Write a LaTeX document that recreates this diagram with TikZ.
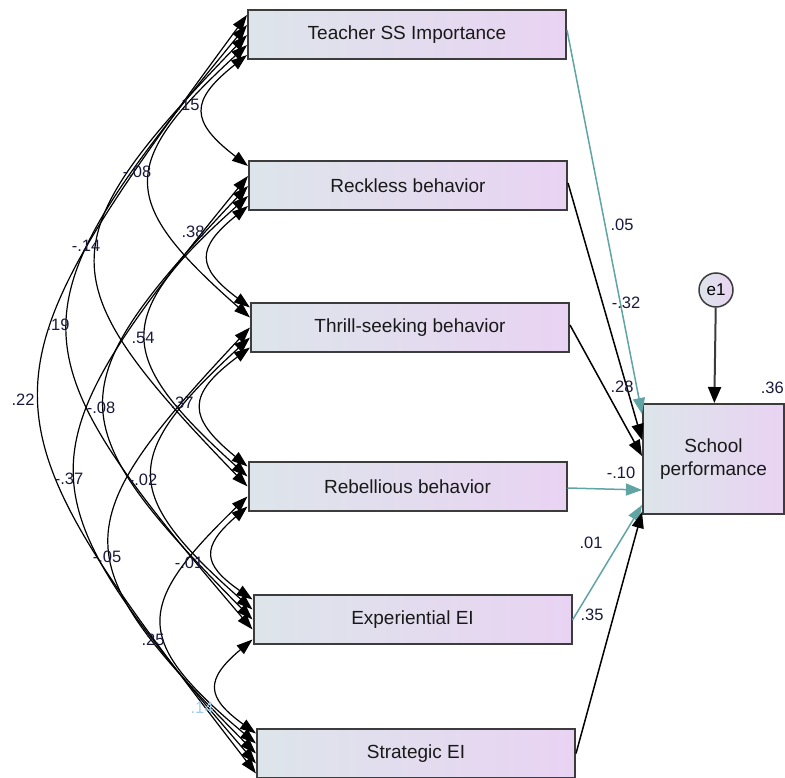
\documentclass[tikz,border=0pt]{standalone}
\usepackage{fontspec}
\setmainfont{Liberation Sans}
\usetikzlibrary{arrows.meta,calc,positioning}
\definecolor{regteal}{RGB}{96,164,164}
\definecolor{boxleft}{RGB}{221,229,234}
\definecolor{boxright}{RGB}{233,211,243}
\definecolor{boxline}{RGB}{60,60,60}
\definecolor{estcol}{RGB}{25,25,60}
\definecolor{ghost}{RGB}{165,205,235}
\tikzset{
  obsbox/.style={draw=boxline,line width=2pt,left color=boxleft,right color=boxright,
    minimum width=318pt,minimum height=49pt,inner sep=0pt,text=black!90,
    font=\fontsize{19}{23}\selectfont},
  covarc/.style={{Triangle[length=16pt,width=11pt]}-{Triangle[length=16pt,width=11pt]},line width=1.2pt},
  regarr/.style={-{Triangle[length=16pt,width=12pt]},line width=1.5pt},
  est/.style={font=\fontsize{16.5}{18}\selectfont,text=estcol,inner sep=0pt},
  cov1/.style={bend right=52,looseness=1.69},
  cov2/.style={bend right=48,looseness=1.65},
  cov3/.style={bend right=44,looseness=1.64},
  cov4/.style={bend right=40,looseness=1.59},
  cov5/.style={bend right=37,looseness=1.58}
}
\begin{document}
\begin{tikzpicture}[x=1pt,y=-1pt]
\useasboundingbox (0,0) rectangle (785,778);
\clip (0,0) rectangle (785,778);
% observed variables
\node[obsbox] (tsi) at (407,35) {Teacher SS Importance};
\node[obsbox] (rck) at (408,186) {Reckless behavior};
\node[obsbox] (thr) at (410,327.5) {Thrill-seeking behavior};
\node[obsbox] (reb) at (407.5,486.5) {Rebellious behavior};
\node[obsbox] (exp) at (412.5,619.5) {Experiential EI};
\node[obsbox] (str) at (416,753.5) {Strategic EI};
\node[obsbox,minimum width=141pt,minimum height=110pt,align=center] (sp) at (713.5,459) {School\\performance};
\node[circle,draw=boxline,line width=1.5pt,left color=boxleft,right color=boxright,minimum size=34pt,
  inner sep=0pt,font=\fontsize{17}{18}\selectfont] (e1) at (716,290) {e1};
% covariances (double-headed arcs on the left)
\foreach \a/\b/\d in {tsi/rck/1,tsi/thr/2,tsi/reb/3,tsi/exp/4,tsi/str/5,
  rck/thr/1,rck/reb/2,rck/exp/3,rck/str/4,
  thr/reb/1,thr/exp/2,thr/str/3,
  reb/exp/1,reb/str/2,
  exp/str/1}
  \draw[covarc] ($(\a.west)+(0,{30-10*\d})$) to[cov\d] ($(\b.west)+(0,{10*\d-30})$);
\foreach \t/\px/\py [count=\k] in {.15/188/105,-.08/137/172,-.14/86/246,.19/58/325,.22/23/400,
  .38/193/232,.54/143/338,-.08/101/408,-.37/69/479,
  .37/182/403,-.02/143/480,-.05/107/557,
  -.01/189/563,.25/153/640}
  \node[est] (c\k) at (\px,\py) {\t};
\node[est,text=ghost] (c15) at (202,708) {.14};
% regression paths
\draw[regarr,regteal] ($(tsi.east)+(0,-5)$) -- ($(sp.west)+(0,-45)$);
\draw[regarr] ($(rck.east)+(0,-3)$) -- ($(sp.west)+(0,-19)$);
\draw[regarr] ($(thr.east)+(0,-2.5)$) -- ($(sp.west)+(0,-3)$);
\draw[regarr,regteal] ($(reb.east)+(0,1.5)$) -- ($(sp.west)+(0,31)$);
\draw[regarr,regteal] ($(exp.east)+(0,0.5)$) -- ($(sp.west)+(0,46)$);
\draw[regarr] (str.east) -- ($(sp.west)+(0,53)$);
\draw[line width=2pt,boxline,-{Triangle[length=16pt,width=13pt,black]}] (e1) -- (sp);
\foreach \t/\px/\py [count=\k] in {.05/622/225,-.32/626/303,.28/622/387,-.10/621/473,.01/591/543,.35/592/615}
  \node[est] (r\k) at (\px,\py) {\t};
\node[est,anchor=east] (r7) at (784,388) {.36};
\end{tikzpicture}
\end{document}
